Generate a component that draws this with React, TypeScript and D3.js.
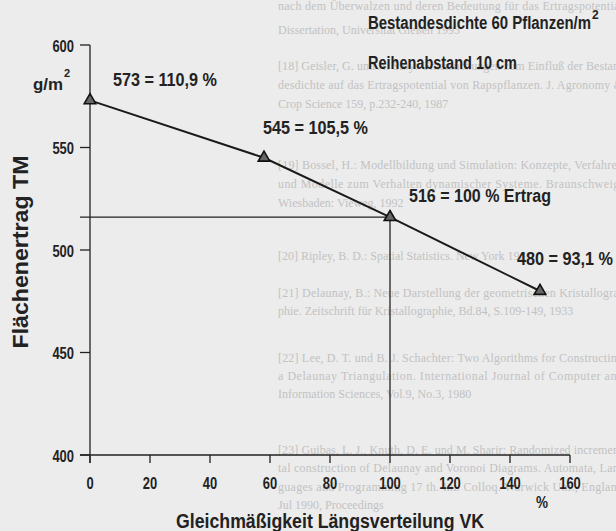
import React from 'react';
import * as d3 from 'd3';

// ---- data ----
const vk = [0, 58, 100, 150];
const ertrag = [573, 545, 516, 480];
const prozent = ['110,9', '105,5', '100', '93,1'];
const suffix = ['', '', ' Ertrag', ''];
const refIndex = 2;
const xTicks = [0, 20, 40, 60, 80, 100, 120, 140, 160];
const yTicks = [400, 450, 500, 550, 600];
const title1 = 'Bestandesdichte 60 Pflanzen/m';
const title2 = 'Reihenabstand 10 cm';
const xTitle = 'Gleichmäßigkeit Längsverteilung VK';
const yTitle = 'Flächenertrag TM';
const yUnit = 'g/m';
const xUnit = '%';

// faint show-through text of the scanned page
const bgLines = [
  'nach dem Überwalzen und deren Bedeutung für das Ertragspotential',
  'Dissertation, Universität Gießen 1993',
  '[18] Geisler, G. und A. Stoy: Untersuchungen zum Einfluß der Bestan-',
  'desdichte auf das Ertragspotential von Rapspflanzen. J. Agronomy &',
  'Crop Science 159, p.232-240, 1987',
  '[19] Bossel, H.: Modellbildung und Simulation: Konzepte, Verfahren',
  'und Modelle zum Verhalten dynamischer Systeme. Braunschweig/',
  'Wiesbaden: Vieweg, 1992',
  '[20] Ripley, B. D.: Spatial Statistics. New York 1981',
  '[21] Delaunay, B.: Neue Darstellung der geometrischen Kristallogra-',
  'phie. Zeitschrift für Kristallographie, Bd.84, S.109-149, 1933',
  '[22] Lee, D. T. und B. J. Schachter: Two Algorithms for Constructing',
  'a Delaunay Triangulation. International Journal of Computer and',
  'Information Sciences, Vol.9, No.3, 1980',
  '[23] Guibas, L. J., Knuth, D. E. und M. Sharir: Randomized incremen-',
  'tal construction of Delaunay and Voronoi Diagrams. Automata, Lan-',
  'guages and Programming 17 th. Int. Colloq. Warwick Uni., England',
  'Jul 1990, Proceedings',
];
const bgRows = [6, 30, 66, 85, 104, 165, 184, 203, 256, 293, 311, 358, 376, 394, 450, 468, 487, 505];
const bgFull = [true, false, true, true, false, true, true, false, false, true, false, true, true, false, true, true, true, false];

// ---- layout / style ----
const W = 616;
const H = 531;
const FONT = '"Liberation Sans", Arial, Helvetica, sans-serif';
const INK = '#222';
const x = d3.scaleLinear().domain([0, 160]).range([90, 570]);
const y = d3.scaleLinear().domain([400, 600]).range([455, 45]);
const labelOffset = [
  [23, -20, 104],
  [-1, -30, 105],
  [19, -21, 142],
  [-23, -32, 96],
];

export default function App() {
  const pts = vk.map((v, i) => [x(v), y(ertrag[i])] as [number, number]);
  const line = d3.line()(pts) || '';
  const tri = d3.symbol().type(d3.symbolTriangle).size(58)() || '';
  const rx = x(vk[refIndex]);
  const ry = y(ertrag[refIndex]);

  return (
    <svg width={W} height={H} style={{ position: 'absolute', left: 0, top: 0 }}>
      <rect x={0} y={0} width={W} height={H} fill="#ececec" />
      <g fontFamily='"Liberation Serif", "Times New Roman", serif' fontSize={12} fill="#c2c2c2">
        {bgLines.map((t, i) => (
          <text key={i} x={278} y={bgRows[i]} dominantBaseline="central"
            textLength={bgFull[i] ? 345 : undefined} lengthAdjust="spacing">{t}</text>
        ))}
      </g>
      <g fontFamily={FONT} fontWeight="bold" fill={INK}>
        {/* axes */}
        <line x1={x(0)} x2={x(0)} y1={y(600)} y2={y(400) + 8} stroke={INK} strokeWidth={1.3} />
        <line x1={x(0) - 10} x2={x(160)} y1={y(400)} y2={y(400)} stroke={INK} strokeWidth={1.3} />
        {yTicks.map((t) => (
          <g key={'yt' + t}>
            <line x1={x(0) - 10} x2={x(0)} y1={y(t)} y2={y(t)} stroke={INK} strokeWidth={1.3} />
            <text x={74} y={y(t) + 1} fontSize={17} textAnchor="end" dominantBaseline="central"
              textLength={String(t).length * 7.2} lengthAdjust="spacingAndGlyphs">{t}</text>
          </g>
        ))}
        {xTicks.map((t) => (
          <g key={'xt' + t}>
            <line x1={x(t)} x2={x(t)} y1={y(400)} y2={y(400) + 8} stroke={INK} strokeWidth={1.3} />
            <text x={x(t)} y={483} fontSize={17} textAnchor="middle" dominantBaseline="central"
              textLength={String(t).length * 7.2} lengthAdjust="spacingAndGlyphs">{t}</text>
          </g>
        ))}
        <text x={542} y={502} fontSize={17} textAnchor="middle" dominantBaseline="central"
          textLength={12} lengthAdjust="spacingAndGlyphs">{xUnit}</text>
        <text x={33} y={84} fontSize={17} dominantBaseline="central" textLength={30} lengthAdjust="spacingAndGlyphs">{yUnit}</text>
        <text x={64} y={77} fontSize={11}>2</text>

        {/* reference lines for 100 % */}
        <line x1={x(0) - 10} x2={rx} y1={ry} y2={ry} stroke={INK} strokeWidth={1.3} />
        <line x1={rx} x2={rx} y1={ry} y2={y(400)} stroke={INK} strokeWidth={1.3} />

        {/* series */}
        <path d={line} fill="none" stroke="#1a1a1a" strokeWidth={2} />
        {pts.map((p, i) => (
          <path key={'m' + i} d={tri} transform={`translate(${p[0]},${p[1]})`} fill="#666" stroke="#111" strokeWidth={1.6} />
        ))}
        {pts.map((p, i) => (
          <text key={'l' + i} x={p[0] + labelOffset[i][0]} y={p[1] + labelOffset[i][1]} fontSize={18}
            dominantBaseline="central" textLength={labelOffset[i][2]} lengthAdjust="spacingAndGlyphs">
            {`${ertrag[i]} = ${prozent[i]} %${suffix[i]}`}
          </text>
        ))}

        {/* titles */}
        <text x={368} y={23} fontSize={18} dominantBaseline="central" textLength={223} lengthAdjust="spacingAndGlyphs">{title1}</text>
        <text x={592} y={15} fontSize={12} dominantBaseline="central">2</text>
        <text x={368} y={63} fontSize={18} dominantBaseline="central" textLength={149} lengthAdjust="spacingAndGlyphs">{title2}</text>
        <text x={(x(0) + x(160)) / 2} y={521} fontSize={20} textAnchor="middle" dominantBaseline="central"
          textLength={308} lengthAdjust="spacingAndGlyphs">{xTitle}</text>
        <text transform="translate(20,252) rotate(-90)" fontSize={22} textAnchor="middle" dominantBaseline="central"
          textLength={193} lengthAdjust="spacingAndGlyphs">{yTitle}</text>
      </g>
    </svg>
  );
}
